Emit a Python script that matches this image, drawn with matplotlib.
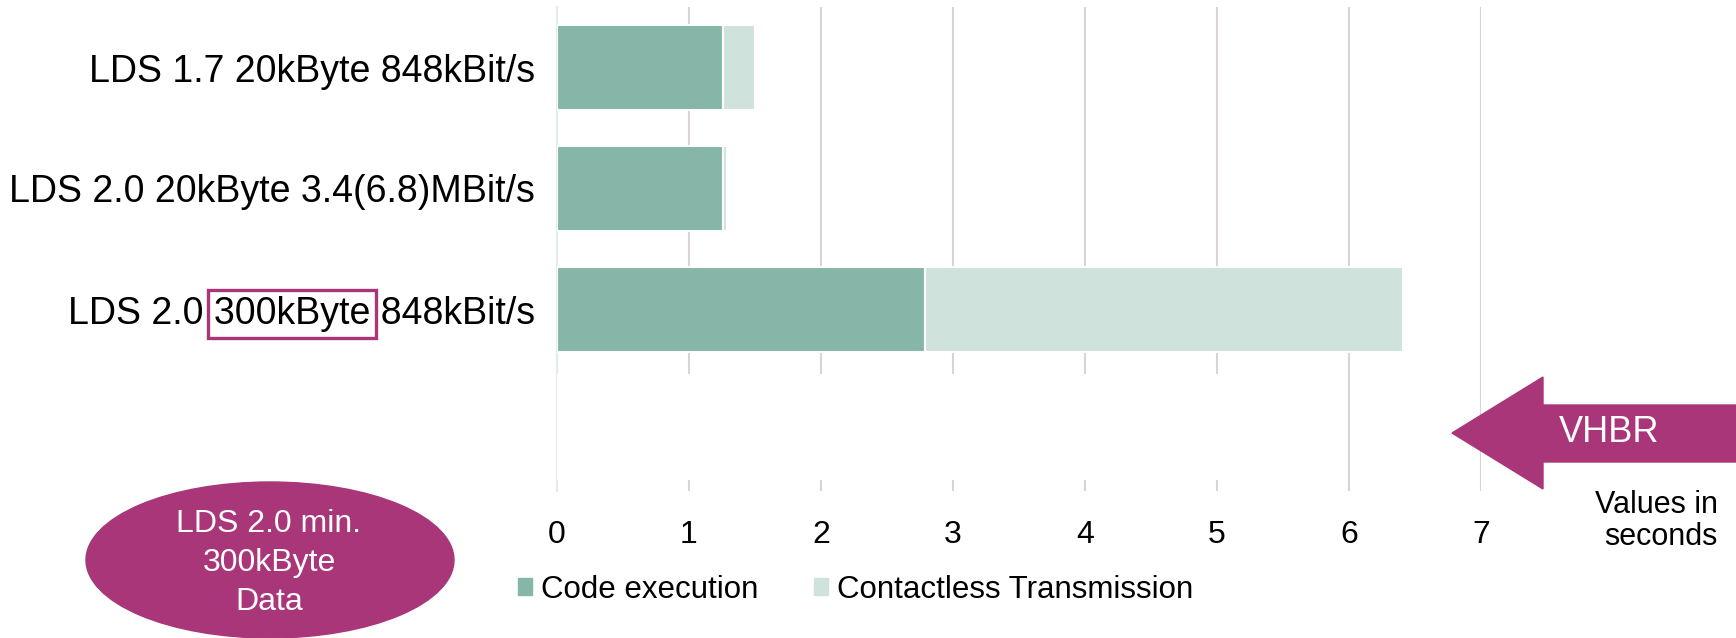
import numpy as np
import matplotlib.pyplot as plt
from matplotlib.patches import Patch, Ellipse, Polygon, Rectangle

plt.rcParams['font.family'] = ['Liberation Sans', 'DejaVu Sans']

# data (seconds)
labels = ['LDS 1.7 20kByte 848kBit/s',
          'LDS 2.0 20kByte 3.4(6.8)MBit/s',
          'LDS 2.0 300kByte 848kBit/s',
          '']
code_exec = [1.26, 1.26, 2.79]
contactless = [0.24, 0.025, 3.62]
hidden_len = 5.5   # blank white bar in the 4th (empty) row
xticks = [0, 1, 2, 3, 4, 5, 6, 7]

green = '#85B6A7'
light = '#CFE3DC'
magenta = '#A93679'
W, H = 1736, 638

fig = plt.figure(figsize=(W / 100, H / 100), dpi=100)
ax = fig.add_axes([557 / W, 1 - 491 / H, (1481 - 557) / W, (491 - 7) / H])

y = np.arange(len(code_exec))
ax.barh(y, code_exec, height=0.71, color=green, edgecolor='white', linewidth=1.5, zorder=2)
ax.barh(y, contactless, left=code_exec, height=0.71, color=light, edgecolor='white',
        linewidth=1.5, zorder=2)
ax.barh([2.97], [hidden_len], height=0.87, color='white', linewidth=0, zorder=2)

ax.set_xlim(0, 7)
ax.set_ylim(3.5, -0.5)
ax.set_xticks(xticks)
ax.set_yticks(range(len(labels)))
ax.set_yticklabels(labels, fontsize=27)
ax.tick_params(axis='y', length=0, pad=16)
ax.tick_params(axis='x', length=0, pad=21, labelsize=23)
ax.xaxis.grid(True, color='#D9D3D6', linewidth=1.5)
ax.set_axisbelow(True)
for s in ['top', 'right', 'bottom']:
    ax.spines[s].set_visible(False)
ax.spines['left'].set_color('#E4ECE9')
ax.spines['left'].set_linewidth(1.5)
ax.spines['left'].set_zorder(0.6)

# legend
handles = [Patch(color=green, label='Code execution'),
           Patch(color=light, label='Contactless Transmission')]
fig.legend(handles=handles, loc='center left', bbox_to_anchor=(518 / W, 1 - 590 / H),
           ncol=2, frameon=False, fontsize=22.5, handlelength=0.45, handleheight=0.45,
           handletextpad=0.3, columnspacing=1.75, borderpad=0, borderaxespad=0)

# ellipse
ell = Ellipse((270 / W, 1 - 560 / H), 368 / W, 156 / H, transform=fig.transFigure,
              color=magenta, zorder=5)
fig.patches.append(ell)
fig.text(269 / W, 1 - 563 / H, 'LDS 2.0 min.\n300kByte\nData', color='white', fontsize=23,
         ha='center', va='center', linespacing=1.4, zorder=6)

# VHBR arrow
pts = [(1452, 433), (1543, 377), (1543, 405), (1736, 405), (1736, 462),
       (1543, 462), (1543, 489)]
arrow = Polygon([(px / W, 1 - py / H) for px, py in pts], closed=True,
                transform=fig.transFigure, color=magenta, zorder=5)
fig.patches.append(arrow)
fig.text(1609 / W, 1 - 433 / H, 'VHBR', color='white', fontsize=26, ha='center',
         va='center', zorder=6)
fig.text(1718 / W, 1 - 521 / H, 'Values in\nseconds', fontsize=22, ha='right',
         va='center', linespacing=1.1)

# box around "300kByte"
fig.canvas.draw()
r = fig.canvas.get_renderer()
lab = ax.get_yticklabels()[2]
bb = lab.get_window_extent(r)


def text_w(s):
    t = fig.text(0, 0, s, fontsize=27)
    w = t.get_window_extent(r).width
    t.remove()
    return w


x0 = bb.x1 - text_w('300kByte 848kBit/s')
x1 = x0 + text_w('300kByte')
pad = 6
inv = fig.transFigure.inverted()
(fx0, fy0) = inv.transform((x0 - pad, bb.y0 - 6))
(fx1, fy1) = inv.transform((x1 + pad, bb.y1 + 6))
fig.patches.append(Rectangle((fx0, fy0), fx1 - fx0, fy1 - fy0, transform=fig.transFigure,
                             fill=False, edgecolor=magenta, linewidth=2.4, zorder=6))

fig.savefig('out.png', dpi=100)
